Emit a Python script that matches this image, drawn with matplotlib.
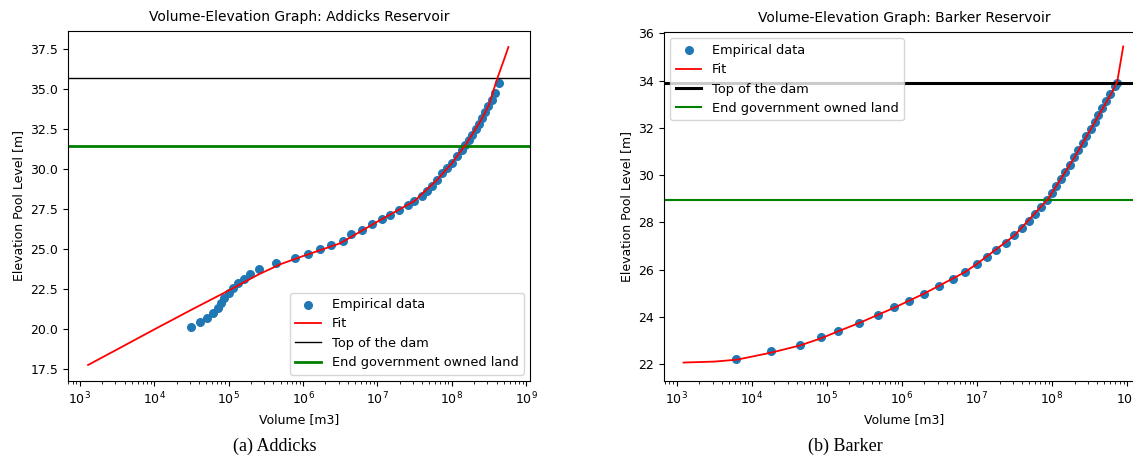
import numpy as np
import matplotlib
matplotlib.use("Agg")
import matplotlib.pyplot as plt

plt.rcParams['font.family'] = ['DejaVu Sans']
plt.rcParams['font.size'] = 9

# Addicks reservoir: empirical points (log10 volume, elevation)
addicks_logv = [4.50, 4.62, 4.71, 4.79, 4.85, 4.89, 4.94, 5.00, 5.06, 5.12,
                5.21, 5.29, 5.41, 5.64, 5.89, 6.06, 6.23, 6.38, 6.53, 6.65,
                6.79, 6.93, 7.06, 7.17, 7.29, 7.41, 7.49, 7.60, 7.67, 7.73,
                7.80, 7.87, 7.93, 8.00, 8.07, 8.14, 8.18, 8.23, 8.27, 8.32,
                8.36, 8.41, 8.45, 8.49, 8.54, 8.58, 8.63]
addicks_elev = [20.11, 20.42, 20.71, 20.98, 21.29, 21.60, 21.92, 22.23, 22.54, 22.86,
                23.13, 23.42, 23.73, 24.11, 24.42, 24.69, 25.00, 25.25, 25.50, 25.94,
                26.19, 26.56, 26.88, 27.13, 27.44, 27.75, 27.96, 28.31, 28.64, 28.94,
                29.31, 29.73, 30.04, 30.39, 30.77, 31.19, 31.50, 31.81, 32.13, 32.48,
                32.81, 33.14, 33.52, 33.90, 34.31, 34.73, 35.36]
addicks_fit_logv = [3.11, 3.5, 4.0, 4.5, 5.0, 5.4, 5.7, 6.0, 6.5, 7.0,
                    7.5, 7.8, 8.0, 8.2, 8.4, 8.5, 8.6, 8.7, 8.76]
addicks_fit_elev = [17.75, 18.72, 19.97, 21.2, 22.4, 23.4, 24.05, 24.55, 25.35, 26.7,
                    28.0, 29.3, 30.35, 31.6, 33.1, 34.0, 35.5, 36.8, 37.6]
addicks_dam = 35.67
addicks_land = 31.45

# Barker reservoir
barker_logv = [3.79, 4.26, 4.64, 4.92, 5.15, 5.43, 5.68, 5.90, 6.10, 6.29,
               6.50, 6.68, 6.84, 7.00, 7.13, 7.26, 7.39, 7.50, 7.60, 7.70,
               7.78, 7.86, 7.94, 8.00, 8.06, 8.12, 8.18, 8.24, 8.30, 8.35,
               8.41, 8.46, 8.52, 8.57, 8.62, 8.67, 8.72, 8.78, 8.84, 8.87]
barker_elev = [22.22, 22.56, 22.84, 23.15, 23.43, 23.76, 24.11, 24.42, 24.70, 24.99,
               25.31, 25.62, 25.90, 26.25, 26.55, 26.85, 27.15, 27.45, 27.75, 28.05,
               28.35, 28.65, 28.95, 29.25, 29.55, 29.85, 30.15, 30.45, 30.75, 31.05,
               31.35, 31.65, 31.95, 32.25, 32.55, 32.85, 33.15, 33.45, 33.75, 33.90]
barker_fit_logv = [3.09, 3.5, 3.8, 4.26, 4.64, 4.92, 5.15, 5.43, 5.9, 6.3,
                   6.84, 7.0, 7.5, 7.95, 8.3, 8.6, 8.8, 8.87, 8.95]
barker_fit_elev = [22.08, 22.12, 22.2, 22.5, 22.8, 23.1, 23.4, 23.75, 24.4, 25.0,
                   25.9, 26.25, 27.45, 29.0, 30.75, 32.4, 33.5, 33.95, 35.44]
barker_dam = 33.9
barker_land = 28.97

volume_ticks = [1e3, 1e4, 1e5, 1e6, 1e7, 1e8, 1e9]

fig = plt.figure(figsize=(11.33, 4.72), dpi=100)
ax1 = fig.add_axes([68/1133, 1-381/472, 462/1133, 350/472])
# the right panel runs past the edge of the canvas
ax2 = fig.add_axes([664/1133, 1-381/472, 481/1133, 349/472])


def draw(ax, logv, elev, fit_logv, fit_elev, dam, land, name, loc, dam_lw, land_lw):
    ax.scatter(10**np.array(logv), elev, s=30, color='C0', label='Empirical data', zorder=2)
    ax.plot(10**np.array(fit_logv), fit_elev, 'r-', lw=1.3, label='Fit', zorder=3)
    ax.axhline(dam, color='k', lw=dam_lw, label='Top of the dam')
    ax.axhline(land, color='g', lw=land_lw, label='End government owned land')
    ax.set_xscale('log')
    ax.set_xticks(volume_ticks)
    ax.set_xlabel('Volume [m3]')
    ax.set_ylabel('Elevation Pool Level [m]')
    ax.set_title('Volume-Elevation Graph: ' + name + ' Reservoir', fontsize=10, pad=7)
    ax.legend(loc=loc, scatterpoints=1, fontsize=9.3)


draw(ax1, addicks_logv, addicks_elev, addicks_fit_logv, addicks_fit_elev,
     addicks_dam, addicks_land, 'Addicks', 'lower right', 1.0, 2.0)
ax1.set_xlim(10**2.84, 10**9.05)
ax1.set_ylim(16.75, 38.6)
ax1.set_yticks(np.arange(17.5, 38, 2.5))

draw(ax2, barker_logv, barker_elev, barker_fit_logv, barker_fit_elev,
     barker_dam, barker_land, 'Barker', 'upper left', 2.2, 1.5)
ax2.set_xlim(10**2.83, 10**9.24)
ax2.set_ylim(21.3, 36.05)
ax2.set_yticks(np.arange(22, 37, 2))

fig.text(275/1133, 1-446/472, '(a) Addicks', family='Liberation Serif', fontsize=13,
         ha='center', va='center')
fig.text(845/1133, 1-446/472, '(b) Barker', family='Liberation Serif', fontsize=13,
         ha='center', va='center')

fig.savefig('out.png', dpi=100)
